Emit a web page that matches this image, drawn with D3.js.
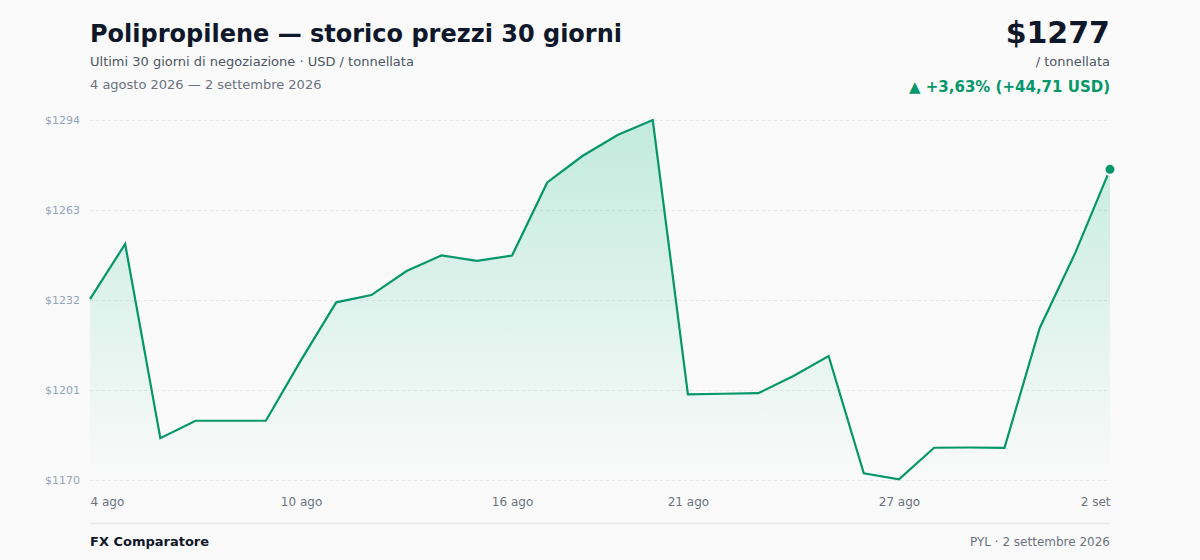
<!DOCTYPE html>
<html>
<head>
<meta charset="utf-8">
<script src="https://cdn.jsdelivr.net/npm/d3@7/dist/d3.min.js"></script>
<style>
  html, body { margin: 0; padding: 0; background: #fafafa; }
  svg { display: block; font-family: "DejaVu Sans", sans-serif; }
</style>
</head>
<body>
<svg id="chart" width="1200" height="560"></svg>
<script>
// ---- data ----
const days = ["4 ago","5 ago","6 ago","7 ago","8 ago","9 ago","10 ago","11 ago","12 ago","13 ago",
  "14 ago","15 ago","16 ago","17 ago","18 ago","19 ago","20 ago","21 ago","22 ago","23 ago",
  "24 ago","25 ago","26 ago","27 ago","28 ago","29 ago","30 ago","31 ago","1 set","2 set"];
const prices = [1232.3, 1251.3, 1184.4, 1190.4, 1190.4, 1190.4, 1211.3, 1231.2, 1233.7, 1242.0,
  1247.4, 1245.5, 1247.3, 1272.5, 1281.6, 1288.8, 1294.0, 1199.5, 1199.7, 1199.9,
  1205.8, 1212.7, 1172.3, 1170.2, 1181.1, 1181.2, 1181.1, 1222.3, 1247.9, 1277.0];
const yTicks = [1170, 1201, 1232, 1263, 1294];
const xTickIdx = [0, 6, 12, 17, 23, 29];
const title = "Polipropilene — storico prezzi 30 giorni";
const subtitle = "Ultimi 30 giorni di negoziazione · USD / tonnellata";
const dateRange = "4 agosto 2026 — 2 settembre 2026";
const priceLabel = "$1277";
const unitLabel = "/ tonnellata";
const changeLabel = "▲ +3,63% (+44,71 USD)";
const footerLeft = "FX Comparatore";
const footerRight = "PYL · 2 settembre 2026";

(function () {
// ---- layout ----
const W = 1200, H = 560;
const pL = 90, pR = 1110, pT = 120, pB = 480;
const green = "#059669";

const svg = d3.select("#chart");
svg.append("rect").attr("width", W).attr("height", H).attr("fill", "#fafafa");

const x = d3.scaleLinear().domain([0, days.length - 1]).range([pL, pR]);
const y = d3.scaleLinear().domain(d3.extent(yTicks)).range([pB, pT]);

const defs = svg.append("defs");
const grad = defs.append("linearGradient").attr("id", "fillGrad")
  .attr("gradientUnits", "userSpaceOnUse")
  .attr("x1", 0).attr("x2", 0).attr("y1", pT).attr("y2", pB);
grad.append("stop").attr("offset", "0%").attr("stop-color", "#10b981").attr("stop-opacity", 0.24);
grad.append("stop").attr("offset", "100%").attr("stop-color", "#10b981").attr("stop-opacity", 0.0);

// gridlines + y labels
const yAxis = d3.axisLeft(y).tickValues(yTicks).tickSize(-(pR - pL)).tickPadding(10)
  .tickFormat(d => "$" + d);
const gy = svg.append("g").attr("transform", `translate(${pL},0)`).call(yAxis);
gy.select(".domain").remove();
gy.selectAll(".tick line").attr("stroke", "#e5e7eb").attr("stroke-dasharray", "3,3").attr("stroke-width", 1);
gy.selectAll(".tick text").attr("fill", "#94a3b8").attr("font-size", 11)
  .attr("font-family", "DejaVu Sans, sans-serif").attr("dy", "0.32em");

// area + line
const area = d3.area().x((d, i) => x(i)).y0(pB).y1(d => y(d));
const line = d3.line().x((d, i) => x(i)).y(d => y(d));
svg.append("path").datum(prices).attr("d", area).attr("fill", "url(#fillGrad)");
svg.append("path").datum(prices).attr("d", line).attr("fill", "none")
  .attr("stroke", green).attr("stroke-width", 2.2).attr("stroke-linejoin", "miter");

// last point
const li = prices.length - 1;
svg.append("circle").attr("cx", x(li)).attr("cy", y(prices[li])).attr("r", 5.5)
  .attr("fill", green).attr("stroke", "#fafafa").attr("stroke-width", 2);

// x axis labels
const xAxis = d3.axisBottom(x).tickValues(xTickIdx).tickSize(0).tickPadding(0)
  .tickFormat(i => days[i]);
const gx = svg.append("g").attr("transform", `translate(0,${pB})`).call(xAxis);
gx.select(".domain").remove();
gx.selectAll(".tick text").attr("fill", "#6b7280").attr("font-size", 12)
  .attr("font-family", "DejaVu Sans, sans-serif").attr("dy", 0).attr("y", 26)
  .attr("text-anchor", (d, k) => k === 0 ? "start" : (k === xTickIdx.length - 1 ? "end" : "middle"));

// header
svg.append("text").attr("x", pL).attr("y", 42).text(title)
  .attr("font-size", 24).attr("font-weight", "bold").attr("fill", "#0f172a");
svg.append("text").attr("x", pL).attr("y", 66).text(subtitle)
  .attr("font-size", 13).attr("fill", "#4b5563");
svg.append("text").attr("x", pL).attr("y", 88.5).text(dateRange)
  .attr("font-size", 13).attr("fill", "#6b7280");

svg.append("text").attr("x", pR).attr("y", 43).text(priceLabel).attr("text-anchor", "end")
  .attr("font-size", 30).attr("font-weight", "bold").attr("fill", "#0f172a");
svg.append("text").attr("x", pR).attr("y", 66).text(unitLabel).attr("text-anchor", "end")
  .attr("font-size", 13).attr("fill", "#4b5563");
svg.append("text").attr("x", pR).attr("y", 92).text(changeLabel).attr("text-anchor", "end")
  .attr("font-size", 15).attr("font-weight", "bold").attr("fill", green);

// footer
svg.append("line").attr("x1", pL).attr("x2", pR).attr("y1", 523.5).attr("y2", 523.5)
  .attr("stroke", "#e5e7eb").attr("stroke-width", 1.5);
svg.append("text").attr("x", pL).attr("y", 546).text(footerLeft)
  .attr("font-size", 13).attr("font-weight", "bold").attr("fill", "#0f172a");
svg.append("text").attr("x", pR).attr("y", 546).text(footerRight).attr("text-anchor", "end")
  .attr("font-size", 12).attr("fill", "#6b7280");
})();
</script>
</body>
</html>
